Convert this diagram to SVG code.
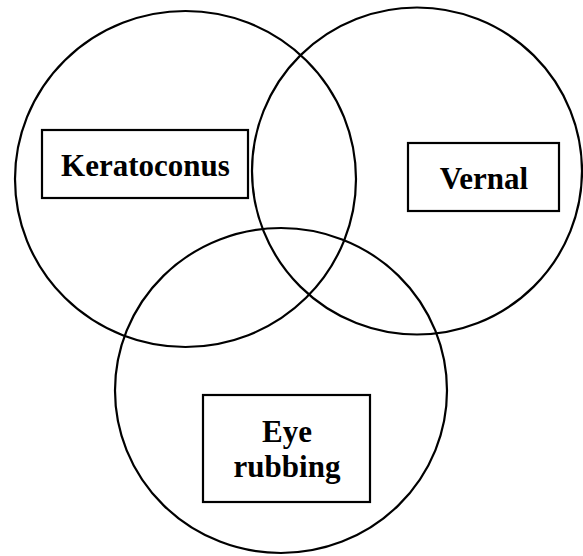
<svg xmlns="http://www.w3.org/2000/svg" width="583" height="556" viewBox="0 0 583 556">
<style>
.ring{fill:none;stroke:#000;stroke-width:2.2}
.box{fill:#fff;stroke:#000;stroke-width:2.2}
.lbl{font-family:"Liberation Serif","Times New Roman",serif;font-weight:bold;font-size:31px;fill:#000;text-anchor:middle}
</style>
<rect width="583" height="556" fill="#fff"/>
<g id="connectors"></g>
<g id="circles">
<ellipse id="circle-keratoconus" class="ring" cx="185.5" cy="179" rx="170.5" ry="168"/>
<ellipse id="circle-vernal" class="ring" cx="417" cy="171" rx="165" ry="163.5"/>
<ellipse id="circle-eye-rubbing" class="ring" cx="281" cy="390.5" rx="166" ry="162.5"/>
</g>
<g id="node-keratoconus">
<rect class="box" x="42" y="130" width="206" height="68"/>
<text class="lbl" x="145.5" y="176">Keratoconus</text>
</g>
<g id="node-vernal">
<rect class="box" x="408" y="143" width="151" height="68"/>
<text class="lbl" x="484" y="189">Vernal</text>
</g>
<g id="node-eye-rubbing">
<rect class="box" x="203" y="395" width="167" height="107"/>
<text class="lbl" x="287" y="442">Eye</text>
<text class="lbl" x="287" y="477">rubbing</text>
</g>
</svg>
